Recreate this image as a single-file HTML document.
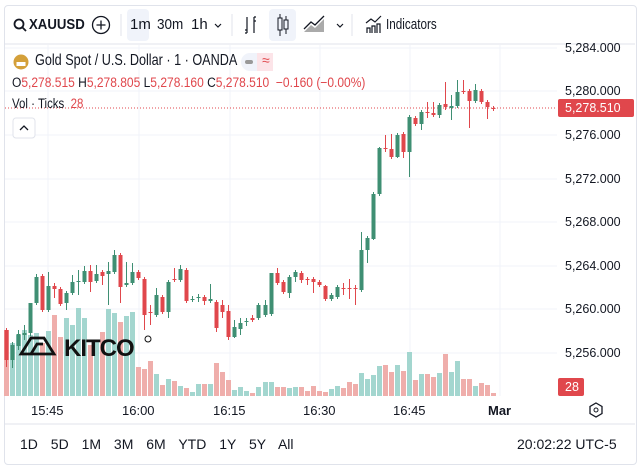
<!DOCTYPE html>
<html><head><meta charset="utf-8"><style>
body{margin:0;width:640px;height:467px;overflow:hidden;background:#fff;font-family:"Liberation Sans",sans-serif;color:#131722}
.t{position:absolute;white-space:nowrap}
.sx{transform-origin:0 0}
</style></head><body>
<div style="position:absolute;left:4px;top:5px;width:631px;height:458px;border:1px solid #e0e3eb;border-radius:4px"></div>
<svg width="640" height="467" style="position:absolute;left:0;top:0" id="s" xmlns="http://www.w3.org/2000/svg">
<line x1="5" y1="44" x2="635" y2="44" stroke="#e0e3eb"/>
<line x1="5" y1="424" x2="635" y2="424" stroke="#e0e3eb"/>
<g stroke="#f0f3fa">
<line x1="5" y1="48" x2="557" y2="48"/><line x1="5" y1="91" x2="557" y2="91"/><line x1="5" y1="135" x2="557" y2="135"/><line x1="5" y1="179" x2="557" y2="179"/><line x1="5" y1="222" x2="557" y2="222"/><line x1="5" y1="266" x2="557" y2="266"/><line x1="5" y1="309" x2="557" y2="309"/><line x1="5" y1="353" x2="557" y2="353"/>
<line x1="48" y1="45" x2="48" y2="396"/><line x1="139" y1="45" x2="139" y2="396"/><line x1="230" y1="45" x2="230" y2="396"/><line x1="320" y1="45" x2="320" y2="396"/><line x1="410" y1="45" x2="410" y2="396"/><line x1="500" y1="45" x2="500" y2="396"/>
</g>
<line x1="5" y1="108" x2="557" y2="108" stroke="#e0474c" stroke-dasharray="1 2"/>
<g id="vol"></g><g id="cd"></g>
<rect x="558" y="99" width="76" height="18" rx="2" fill="#e0474c"/>
<rect x="558" y="378" width="26" height="18" rx="2" fill="#e0474c"/>
<rect x="127" y="9" width="22" height="32" rx="4" fill="#f0f3fa"/>
<rect x="269" y="9" width="27" height="32" rx="4" fill="#f0f3fa"/>
<circle cx="101" cy="25" r="8.5" fill="none" stroke="#131722" stroke-width="1.3"/>
<path d="M96.5 25h9M101 20.5v9" stroke="#131722" stroke-width="1.3"/>
<circle cx="19" cy="24" r="4.5" fill="none" stroke="#131722" stroke-width="1.8"/><path d="M22.5 27.5l3.5 3.5" stroke="#131722" stroke-width="1.8"/>
<line x1="121" y1="14" x2="121" y2="36" stroke="#e0e3eb"/><line x1="232" y1="14" x2="232" y2="36" stroke="#e0e3eb"/><line x1="352" y1="14" x2="352" y2="36" stroke="#e0e3eb"/>
<path d="M215 24l3 3 3-3M337 24l3 3 3-3" stroke="#131722" fill="none" stroke-width="1.2"/>
<path d="M247 17v16M247 30h-2M254 17v16M254 21h2M245 33h2M256 17h-2" stroke="#131722" fill="none" stroke-width="1.2"/>
<path d="M280 14v22M286 16v18" stroke="#131722"/><rect x="278" y="18" width="4" height="12" fill="#f0f3fa" stroke="#131722"/><rect x="284" y="20" width="4" height="9" fill="#f0f3fa" stroke="#131722"/>
<path d="M304 32l7-7 4 3 9-9v13z" fill="#aaa"/><path d="M304 29l7-7 4 3 9-9" stroke="#131722" fill="none" stroke-width="1.3"/>
<path d="M367 33v-5h3v5M372 33v-7h3v7M377 33v-9h3v9M366 23l5-4 4 3 6-6" stroke="#131722" fill="none" stroke-width="1.2"/>
<circle cx="21" cy="62" r="7.5" fill="#d4a03a"/><rect x="16.5" y="62" width="9" height="4" fill="#fff"/>
<rect x="241" y="53" width="32" height="18" rx="9" fill="#f0f3fa"/><rect x="257" y="53" width="16" height="18" fill="#fce4e8"/><rect x="245" y="60" width="8" height="4" rx="2" fill="#999"/>
<rect x="13" y="118" width="22" height="20" rx="3" fill="#fff" stroke="#e0e3eb"/><path d="M20 130l4-4 4 4" stroke="#131722" fill="none" stroke-width="1.3"/>
<polygon points="596,403 602,406.5 602,413.5 596,417 590,413.5 590,406.5" fill="none" stroke="#131722" stroke-width="1.3"/><circle cx="596" cy="410" r="2" fill="none" stroke="#131722"/>
<g fill="none" stroke="#111" stroke-width="2.8">
<path d="M21 354l10-16h13l10 16z"/><path d="M31 354l6-10h6"/>
</g>
<text x="64" y="356" font-family="Liberation Sans" font-size="24" font-weight="bold" fill="#111" letter-spacing="-1">KITCO</text>
<circle cx="148" cy="339" r="3" fill="none" stroke="#111"/>
</svg>
<div class="t sx" style="left:29px;top:16px;font-size:15px;font-weight:bold;transform:scaleX(0.88)">XAUUSD</div>
<div class="t" style="left:130px;top:16px;font-size:15px">1m</div>
<div class="t sx" style="left:157px;top:16px;font-size:15px;transform:scaleX(0.9)">30m</div>
<div class="t" style="left:191px;top:16px;font-size:15px">1h</div>
<div class="t sx" style="left:386px;top:16px;font-size:15px;transform:scaleX(0.78)">Indicators</div>
<div class="t sx" style="left:35px;top:52px;font-size:16px;transform:scaleX(0.79)">Gold Spot / U.S. Dollar · 1 · OANDA</div>
<div class="t" style="left:262px;top:52px;font-size:14px;color:#e0474c">≈</div>
<div class="t sx" style="left:12px;top:75px;font-size:13.5px;color:#e0474c;transform:scaleX(0.89)"><span style="color:#131722">O</span>5,278.515 <span style="color:#131722">H</span>5,278.805 <span style="color:#131722">L</span>5,278.160 <span style="color:#131722">C</span>5,278.510 &nbsp;−0.160 (−0.00%)</div>
<div class="t sx" style="left:12px;top:96px;font-size:13.5px;transform:scaleX(0.85)">Vol · Ticks <span style="color:#e0474c">&nbsp;28</span></div>
<div class="t" style="left:565px;top:41px;font-size:12.5px">5,284.000</div>
<div class="t" style="left:565px;top:84px;font-size:12.5px">5,280.000</div>
<div class="t" style="left:565px;top:101px;font-size:12.5px;color:#fff">5,278.510</div>
<div class="t" style="left:565px;top:128px;font-size:12.5px">5,276.000</div>
<div class="t" style="left:565px;top:172px;font-size:12.5px">5,272.000</div>
<div class="t" style="left:565px;top:215px;font-size:12.5px">5,268.000</div>
<div class="t" style="left:565px;top:259px;font-size:12.5px">5,264.000</div>
<div class="t" style="left:565px;top:302px;font-size:12.5px">5,260.000</div>
<div class="t" style="left:565px;top:346px;font-size:12.5px">5,256.000</div>
<div class="t" style="left:565px;top:380px;font-size:12.5px;color:#fff">28</div>
<div class="t" style="left:31px;top:403px;font-size:13px">15:45</div>
<div class="t" style="left:122px;top:403px;font-size:13px">16:00</div>
<div class="t" style="left:213px;top:403px;font-size:13px">16:15</div>
<div class="t" style="left:303px;top:403px;font-size:13px">16:30</div>
<div class="t" style="left:393px;top:403px;font-size:13px">16:45</div>
<div class="t" style="left:488px;top:403px;font-size:13px;font-weight:bold">Mar</div>
<div class="t" style="left:20px;top:436px;font-size:14px;word-spacing:9px">1D 5D 1M 3M 6M YTD 1Y 5Y All</div>
<div class="t" style="left:517px;top:436px;font-size:14px">20:02:22 UTC-5</div>
<script>
var G="#3f8f73",R="#e0474c",VG="#a3d6cf",VR="#efaeab";
var c=[[6,330,360,328,367],[12,360,345,342,368],[18,346,334,330,350],[24,335,333,325,340],[30,333,303,303,336],[36,303,277,274,305],[42,276,310,274,312],[48,310,286,272,312],[54,286,289,283,298],[60,289,304,287,306],[66,303,293,291,310],[72,293,282,275,295],[78,282,281,270,295],[84,282,271,266,284],[90,271,282,265,292],[96,281,274,265,283],[102,272,276,270,285],[108,274,271,262,305],[114,272,255,250,274],[120,255,287,253,303],[126,285,283,262,287],[132,283,272,263,285],[138,272,278,270,280],[144,279,315,277,330],[150,312,313,305,325],[156,315,295,288,317],[162,297,312,295,314],[168,312,282,280,318],[174,279,280,268,282],[180,280,269,265,282],[186,270,301,268,303],[192,300,299,296,302],[198,298,297,294,302],[204,297,301,295,305],[210,301,299,284,303],[216,302,328,300,332],[222,305,312,300,318],[228,311,337,305,340],[234,337,327,320,338],[240,329,323,318,335],[246,322,321,318,326],[252,318,320,315,322],[258,318,305,303,320],[265,315,305,300,317],[271,314,273,273,316],[277,273,283,268,285],[283,282,292,280,294],[289,293,277,275,298],[295,277,272,270,282],[301,273,280,271,283],[307,279,279,277,285],[313,279,282,277,293],[319,282,285,280,287],[325,286,299,285,301],[331,299,295,293,301],[337,297,287,285,299],[343,288,289,283,295],[349,288,289,279,299],[355,288,289,285,305],[361,290,250,232,292],[367,250,238,236,263],[373,239,194,192,240],[379,194,148,147,196],[385,148,149,135,152],[391,149,157,134,159],[397,157,135,133,158],[403,134,152,132,158],[409,152,117,115,177],[415,118,124,116,126],[421,124,112,110,130],[427,112,113,102,118],[433,113,115,102,117],[439,115,105,103,118],[445,104,107,82,110],[451,108,106,95,120],[457,106,92,80,108],[463,91,92,80,94],[469,91,101,89,128],[475,101,90,84,103],[481,91,102,89,104],[487,102,107,100,119],[493,108,108,106,111]];
var v=[330,343,335,330,335,333,343,331,315,337,318,325,308,318,345,340,332,309,313,322,316,312,367,369,361,374,385,379,381,386,388,392,384,384,384,363,372,380,390,387,391,393,387,382,382,387,387,388,387,387,391,386,391,392,389,386,388,382,384,373,379,375,366,365,372,365,371,352,380,374,374,377,373,354,372,361,379,379,386,383,385,393];
var s="",w="";
for(var i=0;i<c.length;i++){var d=c[i],x=d[0],up=d[2]<d[1],col=up?G:R;var t=Math.min(d[1],d[2]),h=Math.max(1,Math.abs(d[1]-d[2]));
s+='<line x1="'+(x+.5)+'" x2="'+(x+.5)+'" y1="'+d[3]+'" y2="'+d[4]+'" stroke="'+col+'"/><rect x="'+(x-1.5)+'" y="'+t+'" width="4" height="'+h+'" fill="'+col+'"/>';
var vy=v[i]||390;w+='<rect x="'+(x-2)+'" y="'+vy+'" width="5" height="'+(396-vy)+'" fill="'+(up?VG:VR)+'"/>';}
document.getElementById("cd").innerHTML=s;document.getElementById("vol").innerHTML=w;
</script>
</body></html>
